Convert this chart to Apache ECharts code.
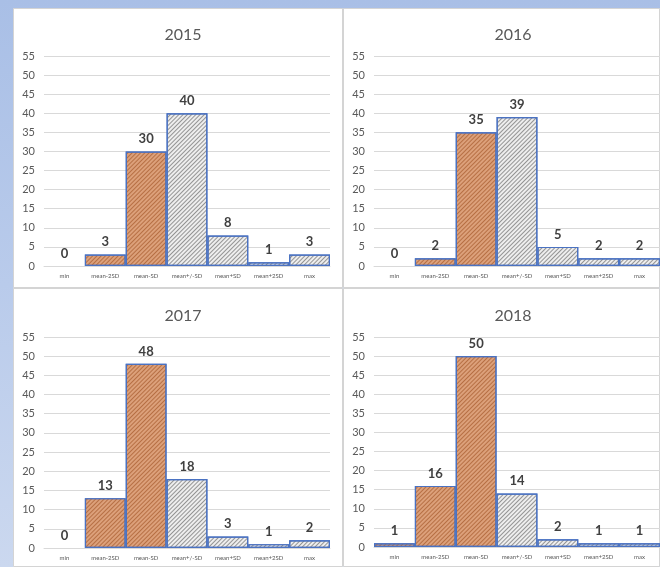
<!DOCTYPE html>
<html>
<head>
<meta charset="utf-8">
<script src="https://cdn.jsdelivr.net/npm/echarts@6/dist/echarts.min.js"></script>
<style>
html,body{margin:0;padding:0;width:660px;height:567px;overflow:hidden;
background:linear-gradient(180deg,#a9bfe6 0%,#b9cbeb 50%,#cbd8ef 100%);}
#c{width:660px;height:567px;}
</style>
</head>
<body>
<div id="c"></div>
<script>
var categories = ['min','mean-2SD','mean-SD','mean+/-SD','mean+SD','mean+2SD','max'];
var years = ['2015','2016','2017','2018'];
var v2015 = [0, 3, 30, 40, 8, 1, 3];
var v2016 = [0, 2, 35, 39, 5, 2, 2];
var v2017 = [0, 13, 48, 18, 3, 1, 2];
var v2018 = [1, 16, 50, 14, 2, 1, 1];
var yTicks = [0,5,10,15,20,25,30,35,40,45,50,55];

var allValues = [v2015, v2016, v2017, v2018];
var FONT = 'Lato, "Open Sans", sans-serif';

var panels = [
  {x:13, y:8,   w:330, h:280, gl:44,  gt:56,  gw:286, gh:210, tx:178, ty:22},
  {x:343,y:8,   w:317, h:280, gl:374, gt:56,  gw:286, gh:210, tx:508, ty:22},
  {x:13, y:288, w:330, h:279, gl:44,  gt:337, gw:286, gh:211, tx:178, ty:303},
  {x:343,y:288, w:317, h:279, gl:374, gt:337, gw:286, gh:210, tx:508, ty:303}
];

function makeStyle(fill, hatch, v){
  return {
    color:fill, borderColor:'#4a72c2', borderWidth: v===0 ? 0 : 1.2,
    decal:{symbol:'rect', symbolSize:1, dashArrayX:[1,0], dashArrayY:[1,2], rotation:-Math.PI/4, color:hatch}
  };
}

var grids=[], xAxes=[], yAxes=[], series=[], titles=[], graphics=[];
panels.forEach(function(p,i){
  graphics.push({type:'rect', silent:true, z:-10,
    shape:{x:p.x+0.5,y:p.y+0.5,width:p.w-1,height:p.h-1},
    style:{fill:'#ffffff', stroke:'#d4d4d4', lineWidth:1}});
  grids.push({left:p.gl, top:p.gt, width:p.gw, height:p.gh, containLabel:false});
  titles.push({text:years[i], left:p.tx, top:p.ty, textAlign:'center',
    textStyle:{fontFamily:FONT, fontSize:16, fontWeight:'normal', color:'#595959'}});
  xAxes.push({type:'category', gridIndex:i, data:categories,
    axisLine:{show:true, lineStyle:{color:'#d9d9d9', width:1}},
    axisTick:{show:false},
    axisLabel:{interval:0, fontSize:6, color:'#595959', margin:7, fontFamily:FONT}});
  yAxes.push({type:'value', gridIndex:i, min:yTicks[0], max:yTicks[yTicks.length-1], interval:5,
    axisLine:{show:false}, axisTick:{show:false},
    axisLabel:{fontSize:11, color:'#595959', margin:9, fontFamily:FONT},
    splitLine:{lineStyle:{color:'#d9d9d9', width:1}}});
  series.push({type:'bar', xAxisIndex:i, yAxisIndex:i, barCategoryGap:'0%',
    data: allValues[i].map(function(v,k){
      return {value:v, itemStyle: k<3
        ? makeStyle('#dca07a','rgba(170,95,50,0.75)',v)
        : makeStyle('#eeeeee','rgba(110,110,110,0.7)',v)};
    }),
    label:{show:true, position:'top', distance:6, fontFamily:FONT, fontSize:13, fontWeight:'bold', color:'#404040'}
  });
});

var chart = echarts.init(document.getElementById('c'), null, {renderer:'canvas'});
chart.setOption({
  animation:false,
  backgroundColor:'transparent',
  title:titles, grid:grids, xAxis:xAxes, yAxis:yAxes, series:series,
  graphic:graphics
});
</script>
</body>
</html>
